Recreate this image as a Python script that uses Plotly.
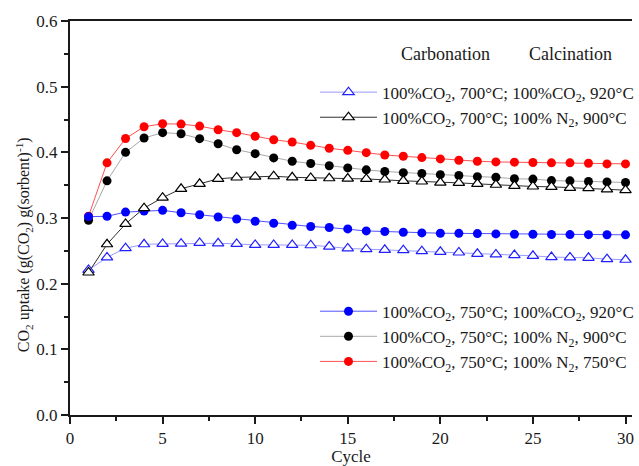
import plotly.graph_objects as go

cycles = list(range(1, 31))

# 100%CO2, 700°C; 100%CO2, 920°C  (blue open triangles)
blue_tri = [0.221, 0.240, 0.254, 0.260, 0.2605, 0.261, 0.262, 0.2615, 0.2605, 0.259,
            0.259, 0.259, 0.2585, 0.2565, 0.2536, 0.2526, 0.2515, 0.2510, 0.2495, 0.2485,
            0.2475, 0.2455, 0.2445, 0.2435, 0.2424, 0.2405, 0.240, 0.2394, 0.2374, 0.2364]
# 100%CO2, 700°C; 100% N2, 900°C  (black open triangles)
black_tri = [0.217, 0.260, 0.291, 0.315, 0.331, 0.3445, 0.352, 0.3597, 0.3617, 0.363,
             0.3636, 0.362, 0.361, 0.3605, 0.360, 0.3595, 0.3586, 0.3566, 0.3556, 0.354,
             0.3535, 0.352, 0.3506, 0.349, 0.348, 0.3475, 0.346, 0.3455, 0.3435, 0.3424]
# 100%CO2, 750°C; 100%CO2, 920°C  (blue circles)
blue_circ = [0.302, 0.3026, 0.309, 0.3106, 0.3117, 0.308, 0.305, 0.3015, 0.2985, 0.2950,
             0.292, 0.289, 0.287, 0.2855, 0.2834, 0.2803, 0.2794, 0.2783, 0.2773, 0.2768,
             0.2766, 0.2763, 0.2758, 0.2753, 0.2752, 0.2748, 0.2747, 0.2746, 0.2745, 0.2744]
# 100%CO2, 750°C; 100% N2, 900°C  (black circles)
black_circ = [0.2965, 0.3566, 0.400, 0.4218, 0.430, 0.4283, 0.4208, 0.413, 0.404, 0.398,
              0.3915, 0.3864, 0.383, 0.3795, 0.3763, 0.3733, 0.3708, 0.369, 0.3677, 0.366,
              0.3647, 0.363, 0.362, 0.3597, 0.3593, 0.357, 0.3566, 0.3556, 0.355, 0.354]
# 100%CO2, 750°C; 100% N2, 750°C  (red circles)
red_circ = [0.3026, 0.384, 0.421, 0.439, 0.4435, 0.443, 0.440, 0.4344, 0.430, 0.4245,
            0.4192, 0.4157, 0.4106, 0.4062, 0.403, 0.3995, 0.396, 0.394, 0.392, 0.390,
            0.388, 0.3864, 0.3854, 0.385, 0.3845, 0.384, 0.384, 0.3833, 0.3824, 0.3824]

names = [
    "100%CO<sub>2</sub>, 700°C; 100%CO<sub>2</sub>, 920°C",
    "100%CO<sub>2</sub>, 700°C; 100% N<sub>2</sub>, 900°C",
    "100%CO<sub>2</sub>, 750°C; 100%CO<sub>2</sub>, 920°C",
    "100%CO<sub>2</sub>, 750°C; 100% N<sub>2</sub>, 900°C",
    "100%CO<sub>2</sub>, 750°C; 100% N<sub>2</sub>, 750°C",
]

FONT = "Liberation Serif"
TXT = "#1a1a1a"

fig = go.Figure()

def add(y, name, line_color, marker, legend, group, rank):
    fig.add_trace(go.Scatter(
        x=cycles, y=y, name=name, mode="lines+markers",
        line=dict(color=line_color, width=1),
        marker=marker, legend=legend, legendgroup=group, legendrank=rank,
    ))

add(black_circ, names[3], "#a8a8a8", dict(symbol="circle", size=9, color="#000000"), "legend2", "g4", 4)
add(red_circ, names[4], "#ff5050", dict(symbol="circle", size=9, color="#ff0000"), "legend2", "g5", 5)
add(blue_circ, names[2], "#5050ff", dict(symbol="circle", size=9, color="#0000ff"), "legend2", "g3", 3)
add(blue_tri, names[0], "#9a9aff",
    dict(symbol="triangle-up", size=10, color="white", line=dict(color="#2020ff", width=1.2)), "legend", "g1", 1)
add(black_tri, names[1], "#303030",
    dict(symbol="triangle-up", size=10, color="white", line=dict(color="#000000", width=1.2)), "legend", "g2", 2)

axis_common = dict(
    showline=True, linecolor=TXT, linewidth=2,
    ticks="outside", ticklen=7, tickwidth=1.5, tickcolor=TXT,
    showgrid=False, zeroline=False,
    tickfont=dict(family=FONT, size=17, color=TXT),
)

fig.update_layout(
    width=639, height=466,
    margin=dict(l=70, r=0, t=21, b=49),
    paper_bgcolor="white", plot_bgcolor="white",
    font=dict(family=FONT, size=17, color=TXT),
    xaxis=dict(range=[0, 30.35], tickmode="linear", tick0=0, dtick=5,
               mirror=True,
               minor=dict(dtick=2.5, ticklen=4, ticks="outside", tickwidth=1.5, tickcolor=TXT),
               title=dict(text="Cycle", font=dict(family=FONT, size=17, color=TXT), standoff=6),
               **axis_common),
    yaxis=dict(range=[0, 0.6], tickmode="linear", tick0=0, dtick=0.1, tickformat=".1f",
               minor=dict(dtick=0.05, ticklen=4, ticks="outside", tickwidth=1.5, tickcolor=TXT),
               **axis_common),
    legend=dict(x=0.436, y=0.864, xanchor="left", yanchor="top", bgcolor="rgba(0,0,0,0)",
                font=dict(family=FONT, size=17, color=TXT), itemwidth=57, tracegroupgap=5,
                traceorder="normal"),
    legend2=dict(x=0.436, y=0.308, xanchor="left", yanchor="top", bgcolor="rgba(0,0,0,0)",
                 font=dict(family=FONT, size=17, color=TXT), itemwidth=57, tracegroupgap=5,
                 traceorder="normal"),
    showlegend=True,
)

fig.add_annotation(text="CO<sub>2</sub> uptake (g(CO<sub>2</sub>) g(sorbent)<sup>-1</sup>)",
                   xref="paper", yref="paper", x=-0.083, y=0.432, xanchor="center", yanchor="middle",
                   textangle=-90, showarrow=False, font=dict(family=FONT, size=16, color=TXT))
fig.add_annotation(text="Carbonation", xref="paper", yref="paper", x=0.585, y=0.915,
                   xanchor="left", yanchor="middle", showarrow=False,
                   font=dict(family=FONT, size=18, color=TXT))
fig.add_annotation(text="Calcination", xref="paper", yref="paper", x=0.813, y=0.915,
                   xanchor="left", yanchor="middle", showarrow=False,
                   font=dict(family=FONT, size=18, color=TXT))

fig.write_html("out.html")
